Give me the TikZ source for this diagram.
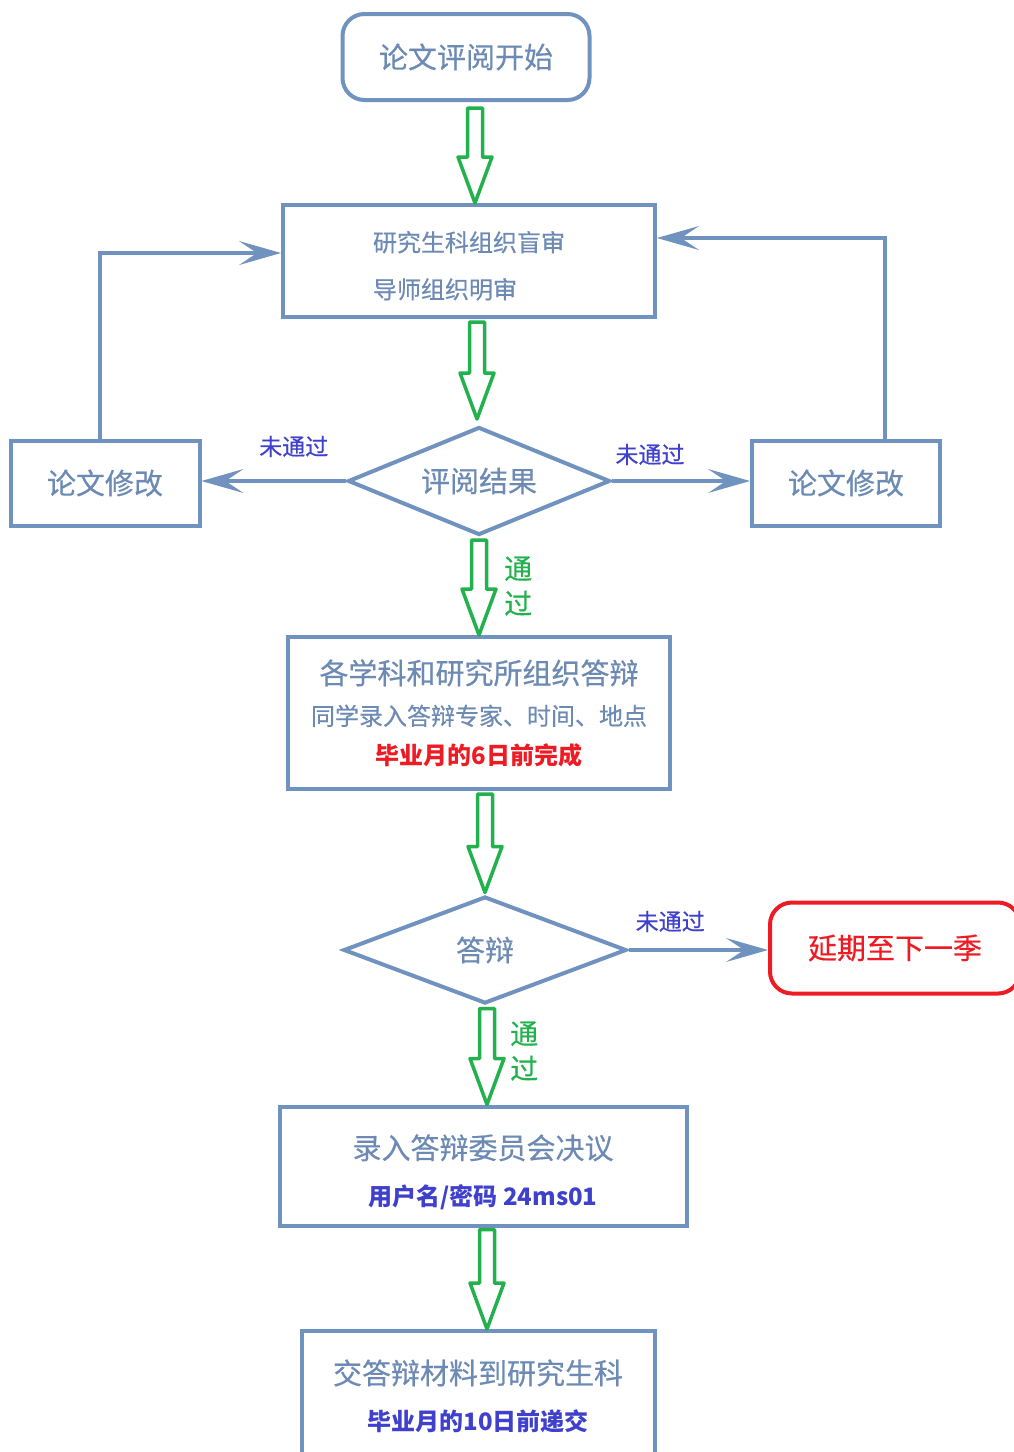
\documentclass[tikz,border=0pt]{standalone}
\usepackage{fontspec}
\setmainfont{Noto Sans CJK SC}[UprightFeatures={FakeBold=0.5}]
\usetikzlibrary{positioning,shapes.geometric,arrows.meta,calc}
\definecolor{frameblue}{RGB}{112,146,190}
\definecolor{textblue}{RGB}{108,138,180}
\definecolor{passgreen}{RGB}{34,177,76}
\definecolor{failred}{RGB}{237,28,36}
\definecolor{noteblue}{RGB}{63,64,204}

\begin{document}
\begin{tikzpicture}[x=1pt, y=-1pt,
    box/.style = { draw=frameblue, line width=4pt, text=textblue, align=center, inner sep=0pt },
    big/.style = { font=\fontsize{29}{34}\selectfont },
    choice/.style = { draw=frameblue, line width=4pt, shape=diamond, text=textblue, inner sep=0pt, big },
    hollow/.style = { draw=passgreen, line width=3.5pt, line join=round,
      to path={let \p1=(\tikztostart), \p2=(\tikztotarget) in
        (\x2-7.5pt,\y1) -- (\x2-7.5pt,\y2+46pt) -- (\x2-17pt,\y2+46pt) -- (\x2,\y2)
        -- (\x2+17pt,\y2+46pt) -- (\x2+7.5pt,\y2+46pt) -- (\x2+7.5pt,\y1) -- cycle} },
    fail/.style = { draw=frameblue, line width=4pt, -{Stealth[length=42pt,width=24pt,inset=18pt,line width=1pt]} },
    faillbl/.style = { text=noteblue, font=\fontsize{23}{27}\selectfont, inner sep=0pt },
    passlbl/.style = { text=passgreen, font=\fontsize{28}{35}\selectfont, align=center, inner sep=0pt }]
    \useasboundingbox (0,0) rectangle (1013,1452);

    \node [box, big, rounded corners=22pt, minimum width=247pt, minimum height=86pt] (start) at (466,57) {论文评阅开始};
    \node [box, align=left, minimum width=372pt, minimum height=112pt, font=\fontsize{24}{28}\selectfont] (review) at (469,261)
      {\rule{0pt}{30pt}研究生科组织盲审\\[19pt]导师组织明审};
    \node [choice, aspect=2.43, minimum width=262pt, minimum height=108pt] (result) at (479,481) {评阅结果};
    \node [box, big, minimum width=189pt, minimum height=85pt] (fixL) at (105,483) {论文修改};
    \node [box, big, minimum width=188pt, minimum height=85pt] (fixR) at (846,483) {论文修改};
    \node [box, minimum width=382pt, minimum height=152pt, font=\fontsize{24}{28}\selectfont] (defense) at (479,713)
      {{\fontsize{29}{34}\selectfont 各学科和研究所组织答辩}\\[13pt]
       同学录入答辩专家、时间、地点\\[11pt]
       {\color{failred}\bfseries 毕业月的6日前完成}};
    \node [choice, aspect=2.64, minimum width=283pt, minimum height=107pt] (defend) at (485,950) {答辩};
    \node [box, big, draw=failred, text=failred, rounded corners=22pt, minimum width=250pt, minimum height=91pt] (delay) at (895,948) {延期至下一季};
    \node [box, minimum width=407pt, minimum height=119pt, font=\fontsize{24}{28}\selectfont] (record) at (483,1166)
      {{\fontsize{29}{34}\selectfont\rule{0pt}{37pt}录入答辩委员会决议}\\[19pt]
       {\color{noteblue}\bfseries 用户名/密码 24ms01}};
    \node [box, minimum width=353pt, minimum height=130pt, font=\fontsize{24}{28}\selectfont] (submit) at (478,1396)
      {{\fontsize{29}{34}\selectfont 交答辩材料到研究生科}\\[18pt]
       {\color{noteblue}\bfseries 毕业月的10日前递交}};

    % green flow
    \draw [hollow] ([yshift=-6pt]start.south) to ([xshift=6pt]review.north);
    \draw [hollow] ([yshift=-3pt]review.south) to ([xshift=-2pt,yshift=6pt]result.north);
    \draw [hollow] ([yshift=-3pt]result.south) to (defense.north);
    \draw [hollow] ([yshift=-3pt]defense.south) to ([yshift=2pt]defend.north);
    \draw [hollow] ([yshift=-3pt]defend.south) to ([xshift=4pt]record.north);
    \draw [hollow] ([yshift=-2pt]record.south) to ([xshift=9pt]submit.north);
    \node [passlbl, right=25pt] at ($(result.south)!.5!(defense.north)$) {通\\过};
    \node [passlbl, right=26pt, yshift=4pt] at ($(defend.south)!.5!(record.north)$) {通\\过};

    % not passed
    \draw [fail] (result.west) -- node [faillbl, above=22pt, xshift=20pt] {未通过} (result.west -| fixL.east);
    \draw [fail] (result.east) -- node [faillbl, above=14pt, xshift=-31pt] {未通过} (result.east -| fixR.west);
    \draw [fail] (defend.east) -- node [faillbl, above=16pt, xshift=-28pt] {未通过} (defend.east -| delay.west);
    \draw [fail] ([xshift=-5pt]fixL.north) |- ([yshift=8pt]review.west);
    \draw [fail] ([xshift=39pt]fixR.north) |- ([yshift=23pt]review.east);
\end{tikzpicture}
\end{document}
